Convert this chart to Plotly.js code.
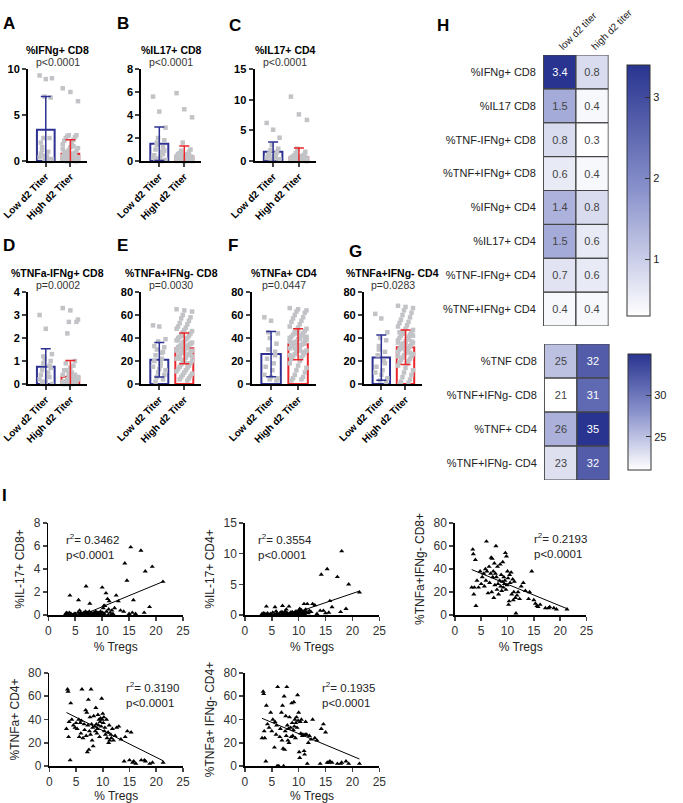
<!DOCTYPE html>
<html>
<head>
<meta charset="utf-8">
<script src="https://cdn.plot.ly/plotly-3.0.1.min.js"></script>
<style>
body{margin:0;background:#fff;}
#fig{width:683px;height:803px;}
</style>
</head>
<body>
<div id="fig"></div>
<script>
// ####################################
// # data
// ####################################
var groups = ["Low d2 Titer", "High d2 Titer"];

var barTitles = ["%IFNg+ CD8", "%IL17+ CD8", "%IL17+ CD4", "%TNFa-IFNg+ CD8", "%TNFa+IFNg- CD8", "%TNFa+ CD4", "%TNFa+IFNg- CD4"];
var barPvals = ["p&lt;0.0001", "p&lt;0.0001", "p&lt;0.0001", "p=0.0002", "p=0.0030", "p=0.0447", "p=0.0283"];
var barMeans = [[3.4, 0.8], [1.5, 0.4], [1.5, 0.6], [0.75, 0.32], [21, 31], [26, 34.5], [23, 32]];
var barSD = [[3.6, 1.5], [1.45, 0.9], [1.6, 1.5], [0.78, 0.7], [15, 13.3], [19.7, 13.5], [19.7, 15]];
var barYMax = [10, 8, 15, 4, 80, 80, 80];
var barDtick = [5, 2, 5, 1, 20, 20, 20];

var dotsLowA = [9.3, 8.9, 9.0, 7.0, 6.9, 2.5, 2.5, 1.5, 1.0, 0.8, 0.5, 0.4, 0.3, 0.2, 0.1, 0.0, 0.6, 0.2, 1.2, 0.1, 2.0, 0.3];
var dotsHighA = [7.9, 7.5, 6.5, 2.8, 2.8, 2.7, 2.6, 2.5, 2.3, 2.2, 2.0, 1.8, 1.5, 1.4, 1.2, 1.1, 1.0, 0.9, 0.8, 0.7, 0.6, 0.6, 0.5, 0.5, 0.4, 0.4, 0.3, 0.3, 0.3, 0.2, 0.2, 0.2, 0.1, 0.1, 0.1, 0.1, 0.0, 0.0, 0.0, 0.0, 0.5, 0.3, 0.2, 0.8, 1.3, 0.6, 0.4, 0.1, 0.2, 0.0, 0.3, 0.7, 1.6, 0.9, 0.1, 0.4, 0.2, 0.0, 0.6, 0.3];
var dotsLowB = [5.6, 4.3, 2.9, 2.0, 1.8, 1.6, 1.2, 1.0, 0.8, 0.5, 0.4, 0.3, 0.2, 0.1, 0.0, 0.9, 1.4, 0.6, 0.2, 0.0];
var dotsHighB = [5.9, 4.5, 3.8, 1.6, 1.0, 0.9, 0.8, 0.7, 0.6, 0.5, 0.5, 0.4, 0.4, 0.3, 0.3, 0.3, 0.2, 0.2, 0.2, 0.1, 0.1, 0.1, 0.0, 0.0, 0.0, 0.0, 0.4, 0.3, 0.2, 0.5, 0.1, 0.6, 0.2, 0.3, 0.0, 0.1, 0.4, 0.2, 0.7, 0.3, 0.1, 0.0, 0.5, 0.2, 0.3, 0.1];
var dotsLowC = [6.2, 5.1, 3.8, 2.6, 2.0, 1.8, 1.5, 1.2, 1.0, 0.9, 0.7, 0.5, 0.4, 0.3, 0.2, 0.1, 0.0, 1.4, 0.8, 0.6];
var dotsHighC = [10.5, 7.6, 6.7, 2.0, 1.5, 1.3, 1.0, 0.9, 0.8, 0.7, 0.6, 0.5, 0.5, 0.4, 0.4, 0.3, 0.3, 0.2, 0.2, 0.2, 0.1, 0.1, 0.0, 0.0, 0.0, 0.4, 0.3, 0.6, 0.2, 0.1, 0.5, 0.3, 0.8, 0.2, 0.1, 0.0, 0.4, 0.7, 0.3, 0.2];
var dotsLowD = [3.0, 2.4, 1.3, 1.1, 1.0, 0.9, 0.8, 0.6, 0.5, 0.4, 0.3, 0.2, 0.1, 0.0, 0.0, 0.7, 1.2, 0.3, 0.1];
var dotsHighD = [3.3, 3.2, 2.8, 2.7, 2.7, 2.2, 1.0, 0.9, 0.8, 0.6, 0.5, 0.4, 0.4, 0.3, 0.3, 0.2, 0.2, 0.2, 0.1, 0.1, 0.1, 0.0, 0.0, 0.0, 0.3, 0.5, 0.2, 0.1, 0.4, 0.6, 0.2, 0.0, 0.3, 0.1, 0.7, 0.2, 0.4, 0.1, 0.0, 0.3];
var dotsLowE = [51, 50, 39, 37, 32, 30, 28, 25, 22, 20, 18, 15, 13, 12, 10, 8, 6, 4, 2, 27, 33, 16];
var dotsHighE = [65, 64, 63, 60, 58, 57, 55, 53, 52, 50, 49, 48, 47, 46, 45, 44, 43, 42, 41, 40, 40, 39, 38, 37, 36, 36, 35, 34, 34, 33, 32, 32, 31, 30, 30, 29, 28, 28, 27, 26, 25, 25, 24, 23, 22, 21, 20, 19, 18, 17, 16, 15, 14, 13, 12, 11, 10, 9, 8, 7, 6, 5, 4, 3, 38, 33, 29, 27, 24, 42, 35, 31, 26, 22, 18];
var dotsLowF = [58, 55, 44, 40, 35, 30, 25, 22, 18, 15, 12, 8, 6, 5, 4, 3, 45, 28];
var dotsHighF = [66, 65, 64, 63, 62, 60, 58, 57, 55, 54, 52, 50, 49, 48, 47, 46, 45, 44, 43, 42, 41, 40, 40, 39, 38, 37, 36, 36, 35, 35, 34, 33, 32, 31, 30, 29, 28, 27, 26, 25, 24, 23, 22, 20, 18, 16, 14, 12, 10, 8, 6, 5, 4, 3, 39, 37, 33, 41, 44, 38, 31, 28, 36, 42, 34, 29, 25, 46, 40, 45];
var dotsLowG = [61, 57, 45, 40, 38, 30, 28, 25, 20, 15, 12, 10, 8, 5, 3, 2, 33, 18];
var dotsHighG = [68, 67, 66, 64, 62, 60, 58, 56, 54, 53, 51, 50, 48, 47, 46, 45, 44, 43, 42, 41, 40, 39, 38, 37, 36, 35, 34, 33, 33, 32, 31, 30, 29, 28, 27, 26, 25, 24, 23, 22, 21, 20, 19, 18, 16, 14, 12, 10, 8, 6, 4, 2, 1, 0, 39, 36, 30, 42, 44, 37, 35, 27, 31, 40, 45, 28, 24, 34];

var dotsLow = [dotsLowA, dotsLowB, dotsLowC, dotsLowD, dotsLowE, dotsLowF, dotsLowG];
var dotsHigh = [dotsHighA, dotsHighB, dotsHighC, dotsHighD, dotsHighE, dotsHighF, dotsHighG];

// heatmaps (H)
var hmCols = ["low d2 titer", "high d2 titer"];
var hmRows1 = ["%IFNg+ CD8", "%IL17 CD8", "%TNF-IFNg+ CD8", "%TNF+IFNg+ CD8", "%IFNg+ CD4", "%IL17+ CD4", "%TNF-IFNg+ CD4", "%TNF+IFNg+ CD4"];
var hmLow1 = [3.4, 1.5, 0.8, 0.6, 1.4, 1.5, 0.7, 0.4];
var hmHigh1 = [0.8, 0.4, 0.3, 0.4, 0.8, 0.6, 0.6, 0.4];
var hmRows2 = ["%TNF CD8", "%TNF+IFNg- CD8", "%TNF+ CD4", "%TNF+IFNg- CD4"];
var hmLow2 = [25, 21, 26, 23];
var hmHigh2 = [32, 31, 35, 32];

// correlations (I), same patients in every panel
var tregs = [3.2, 3.4, 3.5, 3.6, 3.7, 3.9, 4.0, 4.2, 4.5, 4.8, 5.0, 5.2, 5.5, 5.6, 5.8, 5.9, 6.0, 6.1, 6.3, 6.5,
             6.6, 6.8, 6.9, 7.0, 7.1, 7.2, 7.3, 7.4, 7.5, 7.6, 7.7, 7.8, 7.9, 8.0, 8.1, 8.2, 8.3, 8.5, 8.6, 8.7,
             8.8, 8.9, 9.0, 9.1, 9.2, 9.3, 9.4, 9.5, 9.6, 9.7, 9.8, 9.9, 10.0, 10.1, 10.2, 10.3, 10.4, 10.5, 10.7, 10.8,
             11.0, 11.1, 11.2, 11.3, 11.5, 11.6, 11.8, 12.0, 12.3, 12.6, 13.0, 13.4, 14.0, 14.2, 14.6, 15.0, 15.3, 15.6, 15.8, 16.2,
             17.2, 17.8, 18.0, 18.8, 19.3, 21.3];
var il17CD8 = [0.1, 0.2, 0.0, 0.1, 0.0, 0.2, 1.7, 0.1, 0.0, 0.1, 0.1, 0.0, 0.2, 1.3, 0.4, 0.1, 0.2, 0.0, 0.1, 0.0,
               0.2, 0.1, 0.3, 2.5, 0.1, 0.0, 0.2, 0.1, 0.0, 0.3, 1.0, 0.1, 0.0, 0.2, 0.1, 0.0, 0.1, 0.2, 0.0, 0.1,
               0.3, 0.0, 0.1, 0.2, 0.0, 0.1, 0.2, 0.0, 0.1, 0.3, 0.1, 0.0, 2.4, 0.2, 0.6, 0.8, 0.1, 0.8, 1.9, 0.3,
               1.4, 0.0, 0.5, 1.2, 0.2, 0.0, 0.4, 0.1, 0.6, 1.7, 1.2, 0.4, 0.3, 4.5, 3.0, 0.1, 5.9, 0.2, 1.3, 0.1,
               5.6, 0.2, 3.8, 0.7, 4.2, 2.9];
var il17CD4 = [0.2, 0.1, 0.3, 0.0, 0.2, 0.1, 1.4, 0.3, 0.1, 0.2, 0.0, 0.4, 0.1, 1.3, 0.6, 0.2, 0.3, 0.1, 0.0, 0.2,
               0.4, 0.1, 0.5, 1.5, 0.2, 0.0, 0.3, 0.1, 0.6, 0.2, 0.9, 0.1, 0.3, 0.2, 0.0, 1.4, 0.2, 0.4, 0.1, 0.3,
               0.5, 0.2, 0.0, 0.3, 0.1, 0.4, 0.2, 0.6, 0.1, 0.3, 0.2, 0.0, 0.7, 0.4, 1.0, 0.6, 0.2, 0.8, 0.3, 0.5,
               1.8, 0.2, 0.6, 0.9, 0.4, 1.8, 0.3, 0.7, 0.5, 1.8, 1.6, 0.2, 0.7, 6.6, 0.7, 0.3, 7.5, 0.4, 2.3, 1.3,
               6.2, 0.5, 10.4, 1.0, 5.0, 3.7];
var tnfIfngNegCD8 = [24, 57, 53, 18, 24, 48, 8, 30, 24, 38, 27, 33, 36, 25, 40, 30, 64, 38, 19, 42,
                     28, 36, 50, 20, 49, 33, 38, 15, 45, 26, 36, 60, 33, 22, 42, 27, 18, 30, 44, 25,
                     35, 21, 29, 46, 24, 33, 27, 30, 54, 22, 51, 26, 38, 32, 9, 12, 35, 28, 37, 18,
                     31, 13, 20, 29, 15, 1.5, 17, 20, 14, 25, 28, 21, 14, 20, 38, 13, 10, 8, 7, 9,
                     6, 6, 7, 6, 5, 5];
var tnfCD4 = [32, 66, 64, 25, 38, 5, 54, 40, 35, 33, 37, 32, 40, 25, 37, 28, 39, 66, 24, 36,
              31, 48, 26, 46, 12, 35, 57, 14, 30, 42, 27, 66, 36, 22, 33, 17, 43, 34, 30, 50,
              36, 28, 32, 44, 35, 40, 25, 38, 41, 34, 58, 40, 45, 37, 42, 30, 33, 27, 40, 24,
              29, 20, 35, 22, 27, 24, 32, 22, 26, 33, 34, 23, 4, 25, 30, 5, 29, 3, 4, 2,
              5, 5, 4, 2, 3, 3];
var tnfIfngNegCD4 = [24, 64, 62, 30, 24, 4, 52, 36, 33, 46, 30, 40, 16, 38, 27, 35, 0, 68, 0, 25,
                     32, 46, 22, 52, 15, 0, 60, 14, 30, 43, 26, 68, 35, 22, 32, 20, 42, 33, 25, 54,
                     37, 26, 31, 55, 34, 40, 24, 37, 42, 33, 61, 39, 46, 12, 7, 38, 28, 40, 26, 27,
                     13, 10, 27, 38, 27, 2, 20, 26, 23, 40, 24, 22, 2, 32, 36, 29, 3, 3, 4, 3,
                     2, 2, 3, 4, 2, 2];
var corrY = [il17CD8, il17CD4, tnfIfngNegCD8, tnfCD4, tnfIfngNegCD4];
var corrTitles = ["%IL-17+ CD8+", "%IL-17+ CD4+", "%TNFa+IFNg- CD8+", "%TNFa+ CD4+", "%TNFa+ IFNg- CD4+"];
var corrR2 = ["0.3462", "0.3554", "0.2193", "0.3190", "0.1935"];
var corrYMax = [8, 15, 80, 80, 80];
var corrDtick = [2, 5, 20, 20, 20];
var fitX = [3.2, 21.3];
var fitY = [[-0.6, 2.9], [-1.5, 3.9], [39.5, 5.5], [46, 4.5], [41, 6]];

// ####################################
// # layout helpers (pixel boxes)
// ####################################
var W = 683, H = 803;
var FONT = "Liberation Sans, Arial, sans-serif";
var BLUE = "#2e3192", RED = "#e8262b", DOT = "#c2c3c7";

function px(x){ return x / W; }
function py(y){ return 1 - y / H; }
function ax(k){ return k == 1 ? "" : String(k); }

// left, right, top, bottom in pixels
var barBoxes = [[29, 90, 69, 161], [146, 208, 69, 161], [263, 327, 69, 161],
                [29, 90, 292, 384], [146, 208, 292, 384], [260, 327, 292, 384], [376, 436, 292, 384]];
var corrBoxes = [[50, 189, 523, 615], [253, 392, 523, 615], [470, 606, 523, 615],
                 [51, 189, 673, 766], [253, 392, 673, 766]];
var corrNote = [[66, 530], [265, 530], [550, 529], [128, 678], [331, 678]];
var letters = [["A", 9, 23], ["B", 127, 23], ["C", 243, 25], ["D", 9, 245], ["E", 127, 245],
               ["F", 241, 245], ["G", 367, 252], ["H", 458, 25], ["I", 5, 495]];

function jitter(center, n, spread){
    var xs = [];
    for (var i = 0; i < n; i++){
        var k = (i * 5) % 11;
        xs.push(center + (k / 10 - 0.5) * spread);
    }
    return xs;
}

var data = [];
var layout = {
    width: W, height: H,
    margin: {l: 0, r: 0, t: 0, b: 0},
    paper_bgcolor: "#fff", plot_bgcolor: "rgba(0,0,0,0)",
    showlegend: false,
    font: {family: FONT, color: "#111"},
    annotations: [],
    shapes: []
};

// ###################################
// # bar + dot panels (A-G)
// ###################################
for (var p = 0; p < 7; p++){
    var k = p + 1;
    var b = barBoxes[p];
    var xa = "x" + ax(k), ya = "y" + ax(k);

    data.push({
        type: "bar", x: [0, 1], y: barMeans[p], width: 0.72,
        marker: {color: "rgba(255,255,255,0)", line: {color: [BLUE, RED], width: 2}},
        xaxis: xa, yaxis: ya, hoverinfo: "skip"
    });
    data.push({
        type: "scatter", mode: "markers", x: jitter(0, dotsLow[p].length, 0.5), y: dotsLow[p],
        marker: {symbol: "square", size: 4.5, color: DOT}, cliponaxis: false,
        xaxis: xa, yaxis: ya
    });
    data.push({
        type: "scatter", mode: "markers", x: jitter(1, dotsHigh[p].length, 0.62), y: dotsHigh[p],
        marker: {symbol: "square", size: 4.5, color: DOT}, cliponaxis: false,
        xaxis: xa, yaxis: ya
    });
    var cols = [BLUE, RED];
    for (var g = 0; g < 2; g++){
        data.push({
            type: "scatter", mode: "markers", x: [g], y: [barMeans[p][g]],
            marker: {size: 1, color: "rgba(0,0,0,0)"},
            error_y: {type: "data", array: [barSD[p][g]], color: cols[g], thickness: 1.5, width: 5},
            xaxis: xa, yaxis: ya
        });
    }

    layout["xaxis" + ax(k)] = {
        domain: [px(b[0]), px(b[1])], anchor: ya,
        range: [-0.72, 1.68], tickvals: [0, 1], ticktext: groups, tickangle: -45,
        ticklabeloverflow: "allow",
        showline: true, linewidth: 2, linecolor: "#000", ticks: "outside", ticklen: 4, tickwidth: 2,
        tickfont: {family: FONT, size: 10, weight: "bold", color: "#000"},
        showgrid: false, zeroline: false, fixedrange: true
    };
    layout["yaxis" + ax(k)] = {
        domain: [py(b[3]), py(b[2])], anchor: xa,
        range: [0, barYMax[p]], dtick: barDtick[p],
        showline: true, linewidth: 2, linecolor: "#000", ticks: "outside", ticklen: 4, tickwidth: 2,
        tickfont: {family: FONT, size: 11, weight: "bold", color: "#000"},
        showgrid: false, zeroline: false, fixedrange: true
    };

    var cx = (b[0] + b[1]) / 2;
    layout.annotations.push({
        xref: "paper", yref: "paper", x: px(cx), y: py(b[2] - 19), xanchor: "center", yanchor: "middle",
        text: "<b>" + barTitles[p] + "</b>", showarrow: false, font: {family: FONT, size: 10.5, color: "#000"}
    });
    layout.annotations.push({
        xref: "paper", yref: "paper", x: px(cx), y: py(b[2] - 7), xanchor: "center", yanchor: "middle",
        text: barPvals[p], showarrow: false, font: {family: FONT, size: 10.5, color: "#333"}
    });
}

// ###################################
// # heatmaps (H)
// ###################################
function heatZ(low, high){
    var z = [];
    for (var i = 0; i < low.length; i++){ z.push([low[i], high[i]]); }
    return z;
}
var hmScale = [[0, "#ffffff"], [0.5, "#8a92cc"], [1, "#28348f"]];
var hmBoxes = [[561, 629, 55, 326], [562, 630, 344, 480]];
var hmRows = [hmRows1, hmRows2];
var hmZ = [heatZ(hmLow1, hmHigh1), heatZ(hmLow2, hmHigh2)];
var hmFmt = ["%{z:.1f}", "%{z:.0f}"];
var hmTicks = [[1, 2, 3], [25, 30]];

for (var h = 0; h < 2; h++){
    var k = 8 + h;
    var b = hmBoxes[h];
    var xa = "x" + ax(k), ya = "y" + ax(k);
    var n = hmRows[h].length;
    data.push({
        type: "heatmap", x: hmCols, y: hmRows[h], z: hmZ[h],
        colorscale: hmScale, texttemplate: hmFmt[h], textfont: {family: FONT, size: 11},
        xaxis: xa, yaxis: ya, hoverinfo: "skip",
        colorbar: {
            x: px(b[1] + 9), xanchor: "left", y: py((b[2] + b[3]) / 2), yanchor: "middle",
            len: b[3] - b[2], lenmode: "pixels", thickness: 23, thicknessmode: "pixels",
            outlinewidth: 1, outlinecolor: "#333", tickvals: hmTicks[h],
            ticks: "inside", ticklen: 5, tickcolor: "#333",
            tickfont: {family: FONT, size: 11, color: "#222"}
        }
    });
    layout["xaxis" + ax(k)] = {
        domain: [px(b[0]), px(b[1])], anchor: ya, side: "top", type: "category",
        tickangle: -45, showticklabels: h == 0, ticks: "", showline: false, showgrid: false,
        tickfont: {family: FONT, size: 10, color: "#222"}, fixedrange: true
    };
    layout["yaxis" + ax(k)] = {
        domain: [py(b[3]), py(b[2])], anchor: xa, type: "category",
        range: [n - 0.5, -0.5], ticks: "", showgrid: false, ticklabelstandoff: 6,
        tickfont: {family: FONT, size: 11, color: "#222"}, fixedrange: true
    };
    // cell borders
    for (var r = 0; r < n; r++){
        for (var c = 0; c < 2; c++){
            layout.shapes.push({
                type: "rect", xref: xa, yref: ya,
                x0: c - 0.5, x1: c + 0.5, y0: r - 0.5, y1: r + 0.5,
                line: {color: "#444", width: 1}
            });
        }
    }
}

// ###################################
// # correlation panels (I)
// ###################################
for (var q = 0; q < 5; q++){
    var k = 10 + q;
    var b = corrBoxes[q];
    var xa = "x" + ax(k), ya = "y" + ax(k);
    data.push({
        type: "scatter", mode: "lines", x: fitX, y: fitY[q],
        line: {color: "#000", width: 1}, xaxis: xa, yaxis: ya, hoverinfo: "skip"
    });
    data.push({
        type: "scatter", mode: "markers", x: tregs, y: corrY[q],
        marker: {symbol: "triangle-up", size: 4.5, color: "#000"}, cliponaxis: false,
        xaxis: xa, yaxis: ya
    });
    layout["xaxis" + ax(k)] = {
        domain: [px(b[0]), px(b[1])], anchor: ya, range: [0, 25], dtick: 5,
        title: {text: "% Tregs", font: {family: FONT, size: 12, color: "#222"}, standoff: 5},
        showline: true, linewidth: 1.6, linecolor: "#000", ticks: "outside", ticklen: 4, tickwidth: 1.6,
        tickfont: {family: FONT, size: 12, color: "#333"}, showgrid: false, zeroline: false, fixedrange: true
    };
    layout["yaxis" + ax(k)] = {
        domain: [py(b[3]), py(b[2])], anchor: xa, range: [0, corrYMax[q]], dtick: corrDtick[q],
        title: {text: corrTitles[q], font: {family: FONT, size: 12, color: "#222"}, standoff: 6},
        showline: true, linewidth: 1.6, linecolor: "#000", ticks: "outside", ticklen: 4, tickwidth: 1.6,
        tickfont: {family: FONT, size: 12, color: "#333"}, showgrid: false, zeroline: false, fixedrange: true
    };
    layout.annotations.push({
        xref: "paper", yref: "paper", x: px(corrNote[q][0]), y: py(corrNote[q][1]),
        xanchor: "left", yanchor: "top", align: "left", showarrow: false,
        text: "r<sup>2</sup>= " + corrR2[q] + "<br>p&lt;0.0001",
        font: {family: FONT, size: 11.5, color: "#222"}
    });
}

// panel letters
for (var i = 0; i < letters.length; i++){
    layout.annotations.push({
        xref: "paper", yref: "paper", x: px(letters[i][1]), y: py(letters[i][2]),
        xanchor: "center", yanchor: "middle", showarrow: false,
        text: "<b>" + letters[i][0] + "</b>", font: {family: FONT, size: 17, color: "#000"}
    });
}

Plotly.newPlot("fig", data, layout, {staticPlot: true, displayModeBar: false});
</script>
</body>
</html>
